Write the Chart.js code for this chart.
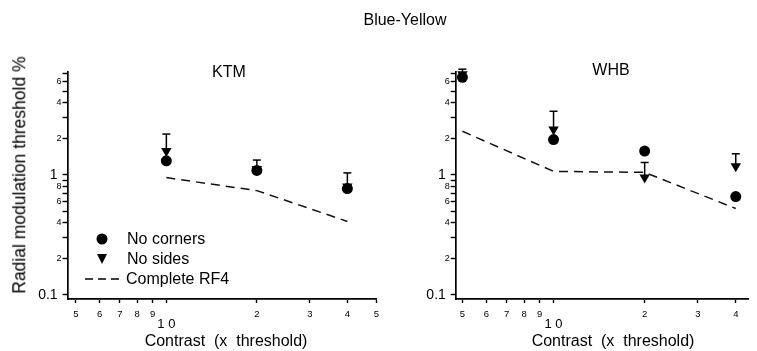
<!DOCTYPE html>
<html>
<head>
<meta charset="utf-8">
<script src="https://cdn.jsdelivr.net/npm/chart.js@4.4.1/dist/chart.umd.min.js"></script>
<style>
  body { margin: 0; background: #fff; }
  #wrap { position: relative; width: 757px; height: 351px; overflow: hidden; font-family: "Liberation Sans", Arial, sans-serif; color: #000; }
  canvas { position: absolute; top: 0; }
  .txt { position: absolute; font-size: 16px; line-height: 1; white-space: pre; transform: translate(-50%, -50%); }
  .lg { position: absolute; font-size: 16px; line-height: 1; white-space: pre; transform: translateY(-50%); }
  .dot { position: absolute; width: 11px; height: 11px; border-radius: 50%; background: #000; transform: translate(-50%, -50%); }
  .tri { position: absolute; width: 0; height: 0; border-left: 5.5px solid transparent; border-right: 5.5px solid transparent; border-top: 10px solid #000; transform: translate(-50%, -50%); }
</style>
</head>
<body>
<div id="wrap">
  <canvas id="ktm" width="395" height="351" style="left:0"></canvas>
  <canvas id="whb" width="362" height="351" style="left:395px"></canvas>

  <div class="txt" style="left:405px; top:20px">Blue-Yellow</div>
  <div class="txt" style="left:229px; top:72px">KTM</div>
  <div class="txt" style="left:611px; top:70px">WHB</div>
  <div class="txt" style="left:20px; top:175px; font-size:17.5px; transform: translate(-50%, -50%) rotate(-90deg)">Radial modulation threshold %</div>
  <div class="txt" style="left:226px; top:341px">Contrast  (x  threshold)</div>
  <div class="txt" style="left:613px; top:341px">Contrast  (x  threshold)</div>

  <div class="dot" style="left:102px; top:239px"></div>
  <div class="lg" style="left:127px; top:239px">No corners</div>
  <div class="tri" style="left:102px; top:259px"></div>
  <div class="lg" style="left:127px; top:259px">No sides</div>
  <svg style="position:absolute; left:84px; top:274px" width="36" height="10">
    <line x1="1" y1="5" x2="35" y2="5" stroke="#000" stroke-width="1.6" stroke-dasharray="8,5"></line>
  </svg>
  <div class="lg" style="left:126px; top:279px">Complete RF4</div>
</div>

<script>
// y axis (threshold %), shared by both panels
const yTickValues = [0.1, 0.2, 0.3, 0.4, 0.5, 0.6, 0.7, 0.8, 0.9, 1, 2, 3, 4, 5, 6, 7];
const yTickLabels = ['0.1', '2', '', '4', '', '6', '', '8', '', '1', '2', '', '4', '', '6', ''];

// x axis (contrast, x threshold)
const ktmTickValues = [5, 6, 7, 8, 9, 10, 20, 30, 40, 50];
const ktmTickLabels = ['5', '6', '7', '8', '9', '1 0', '2', '3', '4', '5'];
const whbTickValues = [5, 6, 7, 8, 9, 10, 20, 30, 40];
const whbTickLabels = ['5', '6', '7', '8', '9', '1 0', '2', '3', '4'];

// KTM
const ktmContrast = [10, 20, 40];
const ktmNoCorners = [1.31, 1.09, 0.77];
const ktmNoSides = [1.58, 1.12, 0.80];
const ktmNoSidesErr = [2.19, 1.33, 1.04];
const ktmComplete = [0.95, 0.74, 0.41];

// WHB
const whbContrast = [5, 10, 20, 40];
const whbNoCorners = [6.5, 1.97, 1.58, 0.66];
const whbNoSides = [6.9, 2.39, 0.95, 1.18];
const whbNoSidesErr = [7.6, 3.39, 1.27, 1.50];
const whbComplete = [2.31, 1.07, 1.05, 0.525];

const FONT = '"Liberation Sans", Arial, sans-serif';

function pts(xs, ys) {
  return xs.map((x, i) => ({ x, y: ys[i] }));
}

function buildDatasets(xs, corners, sides, sidesErr, complete) {
  const sets = [];
  sets.push({
    data: pts(xs, complete), showLine: true, borderColor: '#111', borderWidth: 1.5,
    borderDash: [9, 6], pointRadius: 0, tension: 0
  });
  xs.forEach((x, i) => {
    sets.push({
      data: [{ x, y: sides[i] }, { x, y: sidesErr[i] }], showLine: true,
      borderColor: '#000', borderWidth: 1.5, pointStyle: 'line',
      pointRadius: [0, 4], pointBorderWidth: 1.5, pointBorderColor: '#000', clip: false
    });
  });
  sets.push({
    data: pts(xs, sides), pointStyle: 'triangle', rotation: 180, pointRadius: 6,
    backgroundColor: '#000', borderColor: '#000', pointBorderWidth: 0, clip: false
  });
  sets.push({
    data: pts(xs, corners), pointStyle: 'circle', pointRadius: 5.5,
    backgroundColor: '#000', borderColor: '#000', pointBorderWidth: 0, clip: false
  });
  return sets;
}

function makePanel(canvasId, opts) {
  return new Chart(document.getElementById(canvasId), {
    type: 'scatter',
    data: { datasets: opts.datasets },
    options: {
      responsive: false,
      animation: false,
      devicePixelRatio: 1,
      layout: { padding: { left: 0, right: opts.padRight, top: 72, bottom: 0 } },
      plugins: { legend: { display: false }, tooltip: { enabled: false } },
      scales: {
        x: {
          type: 'logarithmic', min: opts.xMin, max: opts.xMax,
          afterBuildTicks: (scale) => { scale.ticks = opts.xTicks.map((v) => ({ value: v })); },
          afterFit: (scale) => { scale.height = 52; },
          ticks: {
            autoSkip: false, maxRotation: 0, minRotation: 0, padding: 6, color: '#000',
            callback: (value, index) => opts.xLabels[index],
            font: (ctx) => (ctx.tick && ctx.tick.value === 10)
              ? { family: FONT, size: 13, lineHeight: 2.35 }
              : { family: FONT, size: 9.5 }
          },
          grid: { drawOnChartArea: false, drawTicks: true, tickLength: 4, tickColor: '#000', tickWidth: 1.4 },
          border: { display: true, color: '#000', width: 1.7 }
        },
        y: {
          type: 'logarithmic', min: 0.0926, max: 7.2,
          afterBuildTicks: (scale) => { scale.ticks = yTickValues.map((v) => ({ value: v })); },
          afterFit: (scale) => { scale.width = opts.yWidth; },
          ticks: {
            autoSkip: false, padding: 1, color: '#000',
            callback: (value, index) => {
              const label = yTickLabels[index];
              // the decade ticks are longer in the original, so their labels sit further out
              return (value === 1 || value === 0.1) ? label + ' ' : label;
            },
            font: (ctx) => (ctx.tick && (ctx.tick.value === 1 || ctx.tick.value === 0.1))
              ? { family: FONT, size: 14 }
              : { family: FONT, size: 9 }
          },
          grid: { drawOnChartArea: false, drawTicks: true, tickLength: 5, tickColor: '#000', tickWidth: 1.4 },
          border: { display: true, color: '#000', width: 1.7 }
        }
      }
    }
  });
}

makePanel('ktm', {
  xMin: 4.69, xMax: 50, padRight: 18.5, yWidth: 67.5,
  xTicks: ktmTickValues, xLabels: ktmTickLabels,
  datasets: buildDatasets(ktmContrast, ktmNoCorners, ktmNoSides, ktmNoSidesErr, ktmComplete)
});

makePanel('whb', {
  xMin: 4.75, xMax: 43.9, padRight: 9, yWidth: 60.7,
  xTicks: whbTickValues, xLabels: whbTickLabels,
  datasets: buildDatasets(whbContrast, whbNoCorners, whbNoSides, whbNoSidesErr, whbComplete)
});
</script>
</body>
</html>
